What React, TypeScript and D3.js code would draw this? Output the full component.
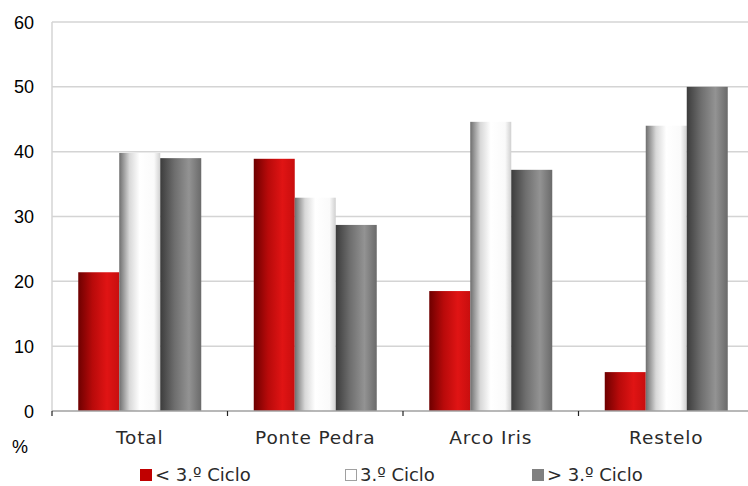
import React from "react";
import * as d3 from "d3";

const categories = ["Total", "Ponte Pedra", "Arco Iris", "Restelo"];
const seriesNames = ["< 3.º Ciclo", "3.º Ciclo", "> 3.º Ciclo"];
const below3 = [21.4, 38.9, 18.5, 6.0];
const ciclo3 = [39.8, 32.9, 44.6, 44.0];
const above3 = [39.0, 28.7, 37.2, 50.0];
const yTicks = [0, 10, 20, 30, 40, 50, 60];

const W = 748, H = 486;
const M = { left: 52, right: 754, top: 22, bottom: 411 };

export default function App() {
  const series = [below3, ciclo3, above3];
  const x = d3.scaleBand<string>().domain(categories).range([M.left, M.right]).paddingInner(0).paddingOuter(0);
  const inner = d3.scaleBand<number>().domain([0, 1, 2]).range([0, 123]);
  const groupOffset = (x.bandwidth() - 123) / 2;
  const y = d3.scaleLinear().domain([0, 60]).range([M.bottom, M.top]);
  const fills = ["url(#gRed)", "url(#gWhite)", "url(#gGray)"];
  const legendX = [140, 345, 532];
  const legendFill = ["#c00000", "#ffffff", "#808080"];
  const legendStroke = ["#c00000", "#a0a0a0", "#808080"];
  const font = "'Liberation Sans', Arial, sans-serif";
  const catFont = "'DejaVu Sans', sans-serif";
  return (
    <div style={{ position: "fixed", left: 0, top: 0 }}>
      <svg width={W} height={H} style={{ display: "block", background: "#fff" }}>
        <defs>
          <linearGradient id="gRed" x1="0" x2="1" y1="0" y2="0">
            <stop offset="0" stopColor="#6e0000" />
            <stop offset="0.35" stopColor="#b80a0a" />
            <stop offset="0.7" stopColor="#e01414" />
            <stop offset="1" stopColor="#c80e0e" />
          </linearGradient>
          <linearGradient id="gWhite" x1="0" x2="1" y1="0" y2="0">
            <stop offset="0" stopColor="#6e6e6e" />
            <stop offset="0.25" stopColor="#d8d8d8" />
            <stop offset="0.5" stopColor="#ffffff" />
            <stop offset="0.85" stopColor="#fafafa" />
            <stop offset="1" stopColor="#d0d0d0" />
          </linearGradient>
          <linearGradient id="gGray" x1="0" x2="1" y1="0" y2="0">
            <stop offset="0" stopColor="#3c3c3c" />
            <stop offset="0.35" stopColor="#6e6e6e" />
            <stop offset="0.7" stopColor="#939393" />
            <stop offset="1" stopColor="#6a6a6a" />
          </linearGradient>
        </defs>
        {yTicks.map((t) => (
          <g key={t}>
            {t > 0 && (
              <line x1={M.left} x2={W} y1={y(t)} y2={y(t)} stroke="#d4d4d4" strokeWidth={1.5} />
            )}
            <text x={34} y={y(t) + 6.5} textAnchor="end" fontFamily={font} fontSize={18} fill="#000">
              {t}
            </text>
          </g>
        ))}
        <line x1={M.left} x2={M.left} y1={M.top} y2={M.bottom} stroke="#d4d4d4" strokeWidth={1.5} />
        {categories.map((c, i) =>
          series.map((s, j) => {
            const bx = (x(c) as number) + groupOffset + (inner(j) as number);
            return (
              <rect key={c + j} x={bx} y={y(s[i])} width={inner.bandwidth()} height={M.bottom - y(s[i])} fill={fills[j]} />
            );
          })
        )}
        <line x1={M.left} x2={W} y1={M.bottom} y2={M.bottom} stroke="#a0a0a0" strokeWidth={1.5} />
        {categories.map((c) => (
          <line key={"t" + c} x1={x(c) as number} x2={x(c) as number} y1={M.bottom} y2={M.bottom + 5} stroke="#222" strokeWidth={1.2} />
        ))}
        {categories.map((c) => (
          <text key={"l" + c} x={(x(c) as number) + x.bandwidth() / 2} y={444} textAnchor="middle" fontFamily={catFont} fontSize={18.5} letterSpacing={0.9} fill="#2a2a2a">
            {c}
          </text>
        ))}
        <text x={12} y={453} fontFamily={font} fontSize={18} fill="#000">%</text>
        {seriesNames.map((n, j) => (
          <g key={n}>
            <rect x={legendX[j] + 0.5} y={469.5} width={11} height={11} fill={legendFill[j]} stroke={legendStroke[j]} strokeWidth={1} />
            <text x={legendX[j] + 15} y={481} fontFamily={catFont} fontSize={18} fill="#2a2a2a">
              {n}
            </text>
          </g>
        ))}
      </svg>
    </div>
  );
}
